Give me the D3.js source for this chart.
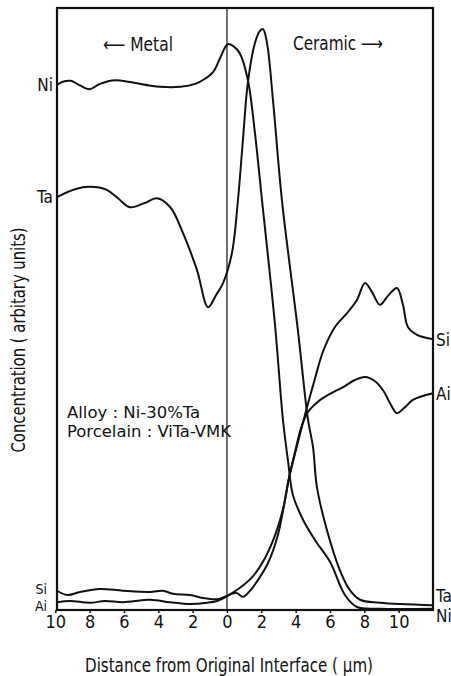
<!DOCTYPE html>
<html>
<head>
<meta charset="utf-8">
<script src="https://cdn.jsdelivr.net/npm/d3@7"></script>
<style>
    body { margin: 0; background: #fff; }
    svg { display: block; }
    text { font-family: "Liberation Sans Narrow", "DejaVu Sans Condensed", "Liberation Sans", sans-serif; fill: #111; }
</style>
</head>
<body>
<svg id="chart" width="451" height="676"></svg>
<script>
// Profiles: [distance from interface (um, metal side negative), concentration (arbitrary units)]
const niProfile = [
    [-9.9, 87.2], [-9.6, 87.7], [-9.1, 87.9], [-8.6, 87.2], [-8.0, 86.5], [-7.4, 87.4],
    [-6.5, 88.0], [-5.65, 87.7], [-3.9, 86.9], [-2.7, 86.9], [-1.85, 87.4], [-1.3, 88.2],
    [-0.8, 89.4], [-0.4, 91.7], [-0.1, 93.5], [0.06, 94.0], [0.35, 93.7], [0.76, 92.4],
    [1.22, 88.0], [1.63, 79.2], [2.04, 68.1], [2.8, 47.3], [3.26, 31.6], [3.55, 24.9],
    [3.84, 19.1], [4.43, 15.0], [5.13, 11.6], [6.0, 8.0], [6.87, 2.5], [7.57, 0.5],
    [8.9, 0.2], [12.0, 0.2]
];

const taProfile = [
    [-9.9, 68.6], [-8.85, 69.9], [-8.0, 70.3], [-7.0, 69.8], [-6.35, 68.4], [-5.65, 66.9],
    [-4.8, 67.6], [-4.08, 68.4], [-3.3, 66.9], [-2.56, 62.6], [-1.75, 56.5], [-1.1, 50.3],
    [-0.64, 52.3], [-0.23, 54.3], [0.29, 59.3], [0.64, 68.1], [0.93, 78.1], [1.22, 87.7],
    [1.63, 94.2], [1.92, 96.2], [2.10, 96.5], [2.33, 94.2], [2.68, 84.7], [3.20, 68.1],
    [4.13, 46.5], [4.72, 31.6], [5.01, 27.1], [5.24, 20.4], [5.82, 13.3], [6.58, 6.6],
    [7.16, 3.3], [7.75, 1.7], [8.9, 1.2], [12.0, 0.8]
];

const siProfile = [
    [-9.9, 3.2], [-9.3, 2.5], [-8.56, 3.0], [-7.4, 3.5], [-6.06, 3.2], [-4.48, 3.0],
    [-3.73, 3.2], [-3.15, 2.7], [-2.15, 2.5], [-1.4, 2.0], [-0.58, 1.8], [-0.12, 2.2],
    [0.29, 2.7], [0.58, 2.8], [0.93, 2.2], [1.34, 3.2], [1.81, 5.0], [2.39, 7.8],
    [2.97, 12.5], [3.61, 21.9], [4.02, 26.6], [4.54, 32.4], [5.13, 38.5], [5.59, 42.9],
    [6.29, 47.0], [6.99, 49.3], [7.57, 51.5], [8.04, 54.3], [8.45, 52.8], [8.91, 50.7],
    [9.38, 52.2], [9.90, 53.5], [10.25, 50.7], [10.54, 47.0], [11.07, 45.7], [11.94, 45.0]
];

const alProfile = [
    [-9.9, 1.3], [-9.14, 1.5], [-7.98, 1.2], [-7.11, 1.5], [-6.06, 1.3], [-4.48, 1.7],
    [-3.32, 1.3], [-2.15, 1.0], [-1.16, 1.2], [-0.58, 1.5], [0.0, 2.3], [0.76, 3.7],
    [1.51, 5.6], [2.21, 8.6], [2.85, 12.8], [3.32, 17.4], [3.61, 21.9], [3.96, 26.2],
    [4.31, 30.2], [4.72, 32.9], [5.3, 34.6], [6.0, 35.9], [6.87, 37.2], [7.45, 38.2],
    [8.04, 38.7], [8.62, 38.0], [9.09, 36.5], [9.49, 34.4], [9.90, 32.7], [10.37, 33.7],
    [10.83, 34.9], [12.0, 36.0]
];

// Axis ticks (labels shown as absolute distance on both sides)
const xTicks = [-10, -8, -6, -4, -2, 0, 2, 4, 6, 8, 10];

// Element labels: [text, concentration level where the label sits]
const leftLabels = [["Ni", 87.2], ["Ta", 68.6], ["Si", 3.6], ["Ai", 0.8]];
const rightLabels = [["Si", 45.0], ["Ai", 36.0], ["Ta", 2.5], ["Ni", -0.8]];

const X_TITLE = "Distance from Original Interface ( \u03bcm)";
const Y_TITLE = "Concentration ( arbitary units)";
const NOTES = ["Alloy : Ni-30%Ta", "Porcelain : ViTa-VMK"];

// Layout
const PLOT = { left: 57, right: 433, top: 8, bottom: 610 };

const svg = d3.select("#chart");

const x = d3.scaleLinear().domain([-9.9, 12]).range([PLOT.left, PLOT.right]);
const y = d3.scaleLinear().domain([0, 100]).range([PLOT.bottom, PLOT.top]);

// Interface line
svg.append("line")
    .attr("x1", x(0)).attr("x2", x(0))
    .attr("y1", PLOT.top).attr("y2", PLOT.bottom)
    .attr("stroke", "#111").attr("stroke-width", 1.2);

// Profiles
const line = d3.line()
    .x(d => x(d[0]))
    .y(d => y(d[1]))
    .curve(d3.curveCatmullRom.alpha(0.5));

[niProfile, taProfile, siProfile, alProfile].forEach(profile => {
    svg.append("path")
        .datum(profile)
        .attr("fill", "none")
        .attr("stroke", "#111")
        .attr("stroke-width", 2)
        .attr("stroke-linejoin", "round")
        .attr("d", line);
});

// Frame
svg.append("rect")
    .attr("x", PLOT.left).attr("y", PLOT.top)
    .attr("width", PLOT.right - PLOT.left)
    .attr("height", PLOT.bottom - PLOT.top)
    .attr("fill", "none")
    .attr("stroke", "#111")
    .attr("stroke-width", 2.2);

// Bottom axis
const xAxis = svg.append("g")
    .attr("transform", `translate(0,${PLOT.bottom})`)
    .call(d3.axisBottom(x).tickValues(xTicks).tickFormat(d => Math.abs(d)).tickSize(3).tickPadding(2));
xAxis.select(".domain").remove();
xAxis.selectAll("line").attr("stroke", "#111").attr("stroke-width", 1.5);
xAxis.selectAll("text")
    .attr("font-size", 18)
    .attr("fill", "#111")
    .style("font-family", "\"Liberation Sans Narrow\", \"DejaVu Sans Condensed\", sans-serif");

// Axis titles
svg.append("text")
    .attr("x", 229).attr("y", 672)
    .attr("text-anchor", "middle")
    .attr("font-size", 19)
    .attr("textLength", 288)
    .attr("lengthAdjust", "spacingAndGlyphs")
    .text(X_TITLE);

svg.append("text")
    .attr("transform", "translate(25,340) rotate(-90)")
    .attr("text-anchor", "middle")
    .attr("font-size", 19)
    .attr("textLength", 225)
    .attr("lengthAdjust", "spacingAndGlyphs")
    .text(Y_TITLE);

// Side labels
leftLabels.forEach(([name, v]) => {
    const small = v < 10;
    svg.append("text")
        .attr("x", small ? PLOT.left - 10 : PLOT.left - 4)
        .attr("y", y(v) + 6)
        .attr("text-anchor", "end")
        .attr("font-size", small ? 14 : 17)
        .text(name);
});
rightLabels.forEach(([name, v]) => {
    svg.append("text")
        .attr("x", PLOT.right + 3).attr("y", y(v) + 7)
        .attr("font-size", 17)
        .text(name);
});

// Region labels
svg.append("text")
    .attr("x", 103).attr("y", 51)
    .attr("font-size", 19)
    .attr("textLength", 70)
    .attr("lengthAdjust", "spacingAndGlyphs")
    .text("\u27f5 Metal");
svg.append("text")
    .attr("x", 293).attr("y", 50)
    .attr("font-size", 19)
    .attr("textLength", 90)
    .attr("lengthAdjust", "spacingAndGlyphs")
    .text("Ceramic \u27f6");

// Sample notes
svg.append("text")
    .attr("x", 67).attr("y", 418)
    .attr("font-size", 16)
    .attr("textLength", 133)
    .attr("lengthAdjust", "spacingAndGlyphs")
    .text(NOTES[0]);
svg.append("text")
    .attr("x", 67).attr("y", 437)
    .attr("font-size", 16)
    .attr("textLength", 164)
    .attr("lengthAdjust", "spacingAndGlyphs")
    .text(NOTES[1]);
</script>
</body>
</html>
